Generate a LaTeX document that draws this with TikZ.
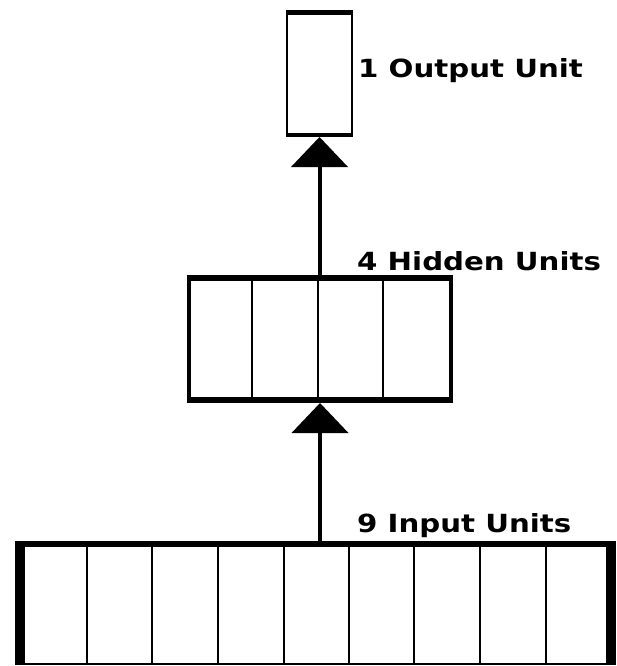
\documentclass[tikz,border=0pt]{standalone}
\usepackage{fontspec}
\setmainfont{DejaVu Sans}
\newfontfamily\widebold[FakeStretch=1.17]{DejaVu Sans Bold}
\usetikzlibrary{arrows.meta}
\begin{document}
\begin{tikzpicture}[x=1pt,y=-1pt,
  layer/.style={inner sep=0pt,outer sep=0pt,fill=black},
  face/.style={fill=white},
  divider/.style={line width=1.6pt},
  caption/.style={anchor=base west,inner sep=0pt,font=\fontsize{25}{29}\selectfont\widebold},
  feed/.style={line width=4pt,-{Triangle[width=57pt,length=30pt,line width=0pt]}}]
\useasboundingbox (0,0) rectangle (616,666);
\fill[white] (0,0) rectangle (616,666);

% output layer: one unit
\node[layer,minimum width=67pt,minimum height=127pt] (outp) at (319.5,73.5) {};
\fill[face] (288,15) rectangle (351,133);

% hidden layer: four units
\node[layer,minimum width=266pt,minimum height=128pt] (hid) at (320,339) {};
\fill[face] (191,281) rectangle (449,397);
\foreach \x in {252,318,383} \draw[divider] (\x,281) -- (\x,397);

% input layer: nine units
\node[layer,minimum width=601pt,minimum height=124pt] (inp) at (315.5,603) {};
\fill[face] (25,547) rectangle (606,663);
\foreach \x in {87,152,218,284,349,414,480,546} \draw[divider] (\x,547) -- (\x,663);

% connections between layers
\draw[feed] (hid.south |- inp.north) -- (hid.south);
\draw[feed] (outp.south |- hid.north) -- (outp.south);

% layer captions
\node[caption] (capout) at (358,78) {1 Output Unit};
\node[caption] (caphid) at (357,270) {4 Hidden Units};
\node[caption] (capinp) at (357,532) {9 Input Units};
\end{tikzpicture}
\end{document}
